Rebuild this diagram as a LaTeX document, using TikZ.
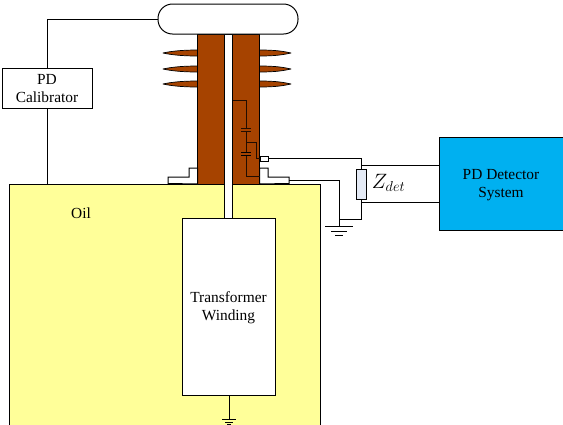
\documentclass[tikz,border=0pt]{standalone}
\usepackage{fontspec}
\setmainfont{Liberation Serif}
\usepackage{amsmath}
\usetikzlibrary{positioning,calc}
\definecolor{oilyellow}{HTML}{FFFF99}
\definecolor{bushbrown}{HTML}{A64300}
\definecolor{detblue}{HTML}{00B0F0}
\definecolor{zfill}{HTML}{E4EAF5}
\begin{document}
\begin{tikzpicture}[x=1pt,y=-1pt,line width=1pt,
    box/.style={rectangle,draw,inner sep=0pt,outer sep=0pt},
    bush/.style={box,fill=bushbrown,minimum width=27pt,minimum height=150pt},
    lbl/.style={font=\fontsize{15.4}{18}\selectfont,align=center,inner sep=0pt},
    shed/.style={draw,fill=bushbrown,line width=0.7pt,line join=round},
    wire/.style={draw,line width=1pt},
    inwire/.style={draw=black!80!bushbrown,line width=1pt}]
    \useasboundingbox (0,0) rectangle (563,424);
    \clip (0,0) rectangle (563,424);
    % tank and bushing
    \node at (165,314) (tank) [box, fill=oilyellow, minimum width=311pt, minimum height=260pt] {};
    \foreach \y in {53,69,84} {
        \draw[shed] (197.5,\y-3) .. controls (180,\y-3) and (170,\y-1.5) .. (163,\y) .. controls (170,\y+1.5) and (180,\y+3) .. (197.5,\y+3);
        \draw[shed] (259.5,\y-3) .. controls (277,\y-3) and (284,\y-1.5) .. (291,\y) .. controls (284,\y+1.5) and (277,\y+3) .. (259.5,\y+3);
    }
    \node at (228.5,126) (rod) [box, fill=white, minimum width=8pt, minimum height=184pt] {};
    \node at (211,109) (bushL) [bush] {};
    \node at (246,109) (bushR) [bush] {};
    \node at (228,19) (capsule) [box, fill=white, rounded corners=14.5pt, minimum width=140pt, minimum height=30pt] {};
    \node at (228.5,306.5) (winding) [box, fill=white, minimum width=93pt, minimum height=177pt] {};
    \node at (47,88) (calib) [box, fill=white, minimum width=90pt, minimum height=40pt] {};
    \node at (501.5,183.5) (detector) [box, fill=detblue, minimum width=125pt, minimum height=93pt] {};
    \node at (361,184) (zdet) [box, fill=zfill, minimum width=10pt, minimum height=30pt] {};
    \node at (264,158.5) (tap) [box, fill=white, minimum width=8pt, minimum height=5pt] {};
    % flanges
    \draw[fill=white] (bushL.west |- 0,168) -- (189,168) -- (189,177) -- (168,177) -- (168,183.5) -- (bushL.south west) -- cycle;
    \draw[fill=white] (bushR.east |- 0,168) -- (268,168) -- (268,177) -- (289,177) -- (289,183.5) -- (bushR.south east) -- cycle;
    % labels
    \node at (47,89) (calibtxt) [lbl] {PD\\Calibrator};
    \node at (81,213) (oiltxt) [lbl] {Oil};
    \node at (228.5,307.5) (windtxt) [lbl] {Transformer\\Winding};
    \node at (501,185) (dettxt) [lbl] {PD Detector\\System};
    \node at (388.5,183) (ztxt) [inner sep=0pt, font=\fontsize{21}{23}\selectfont] {$Z_{det}$};
    % outer wiring
    \draw[wire] (capsule.west) -| (calib.north);
    \draw[wire] (calib.south) -- (calib.south |- tank.north);
    \coordinate (topin) at (361,158.5);
    \coordinate (botin) at (361,219);
    \coordinate (gndA) at (339,226);
    \coordinate (flangeout) at (289,180.5);
    \draw[wire] (tap.east) -- (topin) -- (zdet.north);
    \draw[wire] (zdet.south) -- (botin) -- (botin -| gndA) -- (gndA);
    \draw[wire] (flangeout) -| (gndA);
    \draw[wire] (361,165) coordinate (detA) -- (detA -| detector.west);
    \draw[wire] (361,202.5) coordinate (detB) -- (detB -| detector.west);
    % grounds
    \draw[wire] ($(gndA)+(-14,0)$) -- ($(gndA)+(14,0)$);
    \draw[wire] ($(gndA)+(-8,5)$) -- ($(gndA)+(8,5)$);
    \draw[wire] ($(gndA)+(-4,9)$) -- ($(gndA)+(4,9)$);
    \coordinate (gndB) at (229,419);
    \draw[wire] (winding.south -| gndB) -- (gndB);
    \draw[wire] ($(gndB)+(-7,0)$) -- ($(gndB)+(7,0)$);
    \draw[wire] ($(gndB)+(-4,3)$) -- ($(gndB)+(4,3)$);
    \draw[wire] ($(gndB)+(-2,5)$) -- ($(gndB)+(2,5)$);
    % divider inside bushing
    \coordinate (capA) at (246,100);
    \coordinate (capB) at (246,176);
    \coordinate (capM) at (246,142);
    \draw[inwire] (bushR.west |- capA) -- (capA) -- (246,128.5);
    \draw[inwire] (246,131.5) -- (246,152);
    \draw[inwire] (246,155) -- (capB) -- (capB -| bushR.east);
    \draw[inwire] (241,128.5) -- (251,128.5);
    \draw[inwire] (241,131.5) -- (251,131.5);
    \draw[line width=1pt] (241,152) -- (251,152);
    \draw[line width=1pt] (241,155) -- (251,155);
    \draw[inwire] (capM) -- (256,142) -- (256,158.5) -- (tap.west);
\end{tikzpicture}
\end{document}
